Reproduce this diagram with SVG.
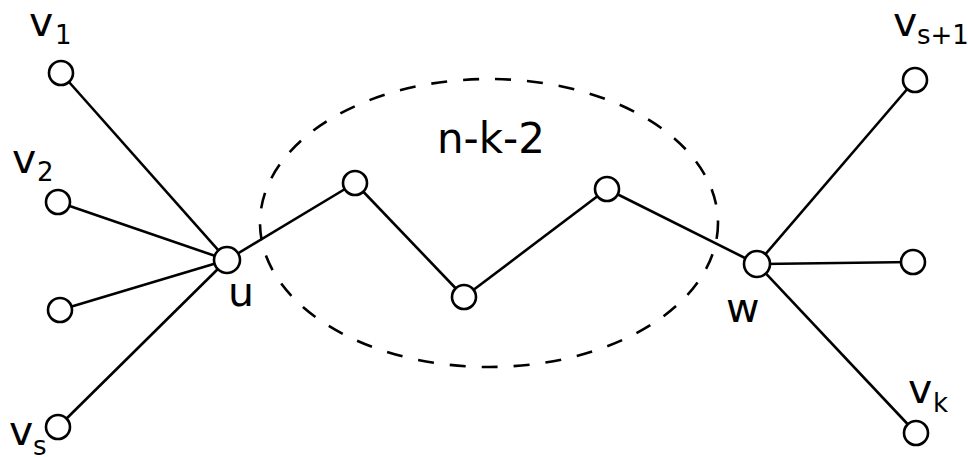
<svg xmlns="http://www.w3.org/2000/svg" width="968" height="457" viewBox="0 0 968 457">
<style>
.e{stroke:#000;stroke-width:2.6;fill:none}
.n{fill:#fff;stroke:#000;stroke-width:2.6}
.t{font-family:"DejaVu Sans",sans-serif;font-size:41px;fill:#000}
.s{font-family:"DejaVu Sans",sans-serif;font-size:26px;fill:#000}
</style>
<rect width="968" height="457" fill="#fff"/>
<ellipse id="region" cx="489" cy="223" rx="229" ry="144" fill="none" stroke="#000" stroke-width="2.6" stroke-dasharray="16 16"/>
<text class="t" x="437" y="153" style="font-size:42px">n-k-2</text>
<g id="edges">
<line class="e" x1="61" y1="73" x2="227" y2="260"/>
<line class="e" x1="58" y1="202" x2="227" y2="260"/>
<line class="e" x1="60" y1="310" x2="227" y2="260"/>
<line class="e" x1="58" y1="427" x2="227" y2="260"/>
<line class="e" x1="227" y1="260" x2="355" y2="183"/>
<line class="e" x1="355" y1="183" x2="464" y2="297"/>
<line class="e" x1="464" y1="297" x2="607" y2="189"/>
<line class="e" x1="607" y1="189" x2="757" y2="264"/>
<line class="e" x1="757" y1="264" x2="915" y2="80"/>
<line class="e" x1="757" y1="264" x2="913" y2="262"/>
<line class="e" x1="757" y1="264" x2="916" y2="433"/>
</g>
<g id="v1"><circle class="n" cx="61" cy="73" r="12"/><text class="t" x="29" y="36">v</text><text class="s" x="55" y="44">1</text></g>
<g id="v2"><circle class="n" cx="58" cy="202" r="12"/><text class="t" x="12" y="173">v</text><text class="s" x="37" y="181">2</text></g>
<g id="v3"><circle class="n" cx="60" cy="310" r="12"/></g>
<g id="vs"><circle class="n" cx="58" cy="427" r="12"/><text class="t" x="9" y="445">v</text><text class="s" x="33" y="455">s</text></g>
<g id="u"><circle class="n" cx="227" cy="260" r="13"/><text class="t" x="228" y="306">u</text></g>
<g id="m1"><circle class="n" cx="355" cy="183" r="12"/></g>
<g id="m2"><circle class="n" cx="464" cy="297" r="12"/></g>
<g id="m3"><circle class="n" cx="607" cy="189" r="12"/></g>
<g id="w"><circle class="n" cx="757" cy="264" r="13"/><text class="t" x="726" y="322">w</text></g>
<g id="vs1"><circle class="n" cx="915" cy="80" r="12"/><text class="t" x="893" y="36">v</text><text class="s" x="917" y="44">s+1</text></g>
<g id="r"><circle class="n" cx="913" cy="262" r="12"/></g>
<g id="vk"><circle class="n" cx="916" cy="433" r="12"/><text class="t" x="908" y="403">v</text><text class="s" x="933" y="412">k</text></g>
</svg>
